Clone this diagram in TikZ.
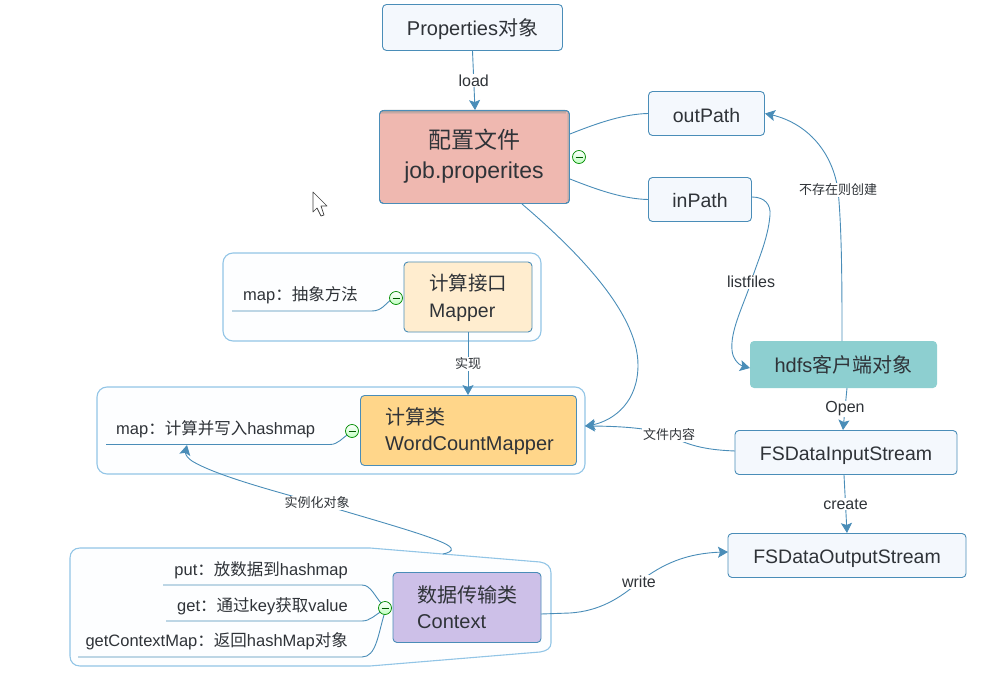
\documentclass[tikz,border=0pt]{standalone}
\usepackage{fontspec}
\setmainfont{Liberation Sans}
\newfontfamily\cjk{Noto Sans CJK SC}
\usetikzlibrary{arrows.meta,bending}
\definecolor{edge}{HTML}{4A8DB8}
\definecolor{frame}{HTML}{92C5E6}
\definecolor{inkc}{HTML}{2F3338}
\definecolor{pale}{HTML}{F4F8FD}
\definecolor{confc}{HTML}{EFB8B0}
\definecolor{mapc}{HTML}{FFEDCF}
\definecolor{wcc}{HTML}{FFD68A}
\definecolor{ctxc}{HTML}{CDC0E8}
\definecolor{hdfsc}{HTML}{8DCFD0}
\tikzset{x=1pt,y=-1pt,
 box/.style={draw=edge,line width=.9pt,rounded corners=4pt,fill=#1,text=inkc,align=center,inner sep=0pt},
 link/.style={draw=edge,line width=.9pt},
 arr/.style={link,-{Stealth[length=10pt,width=11pt,inset=2pt]}},
 lab/.style={fill=white,inner sep=1pt,text=inkc,font=\fontsize{16}{18}\selectfont},
 zlab/.style={fill=white,inner sep=1pt,text=inkc,font=\fontsize{13}{15}\selectfont},
 topic/.style={text=inkc,font=\fontsize{16.5}{19}\selectfont,inner sep=0pt},
 group/.style={draw=frame,line width=1.1pt,fill=white!98!frame,rounded corners=10pt,inner sep=0pt},
 collapse/.style={circle,draw=green!55!black,line width=.7pt,top color=white,bottom color=green!25,minimum size=13pt,inner sep=0pt,path picture={\draw[green!35!black,line width=.8pt] ([xshift=-3.5pt]path picture bounding box.center)--([xshift=3.5pt]path picture bounding box.center);}}
}
\newcommand{\zh}[1]{{\cjk #1}}
\newcommand{\lift}[1]{\rule{0pt}{#1pt}}
\begin{document}
\begin{tikzpicture}
\useasboundingbox (0,0) rectangle (999,679);
% groups
\node[group,minimum width=318pt,minimum height=88pt] (gmap) at (382,297) {};
\node[group,minimum width=488pt,minimum height=87pt] (gwc) at (341,430.5) {};
\path[draw=frame,line width=1.1pt,fill=white!98!frame] (80,548) -- (370,548) -- (540,562) .. controls (547,563) and (551,567) .. (551,573) -- (551,643) .. controls (551,648) and (547,651) .. (540,652) -- (370,666) -- (80,666) .. controls (74,666) and (70,662) .. (70,656) -- (70,558) .. controls (70,552) and (74,548) .. (80,548) -- cycle;
% nodes
\node[box=pale,minimum width=180pt,minimum height=46pt,font=\fontsize{20}{24}\selectfont] (props) at (472.5,27.5) {\lift{21}Properties\zh{对象}};
\node[box=confc,minimum width=190pt,minimum height=93pt] (conf) at (474.5,157) {};
\begin{scope}
\clip[rounded corners=4pt] (380,110) rectangle (569,203);
\fill[top color=black!40,bottom color=confc] (380,110) rectangle (569,114);
\fill[left color=confc,right color=black!35] (566,110) rectangle (569,203);
\end{scope}
\draw[edge,line width=.9pt,rounded corners=4pt] (379.5,110.5) rectangle (569.5,203.5);
\node[text=inkc,align=center,font=\fontsize{23}{30}\selectfont] (conft) at (474,156.5) {\zh{配置文件}\\job.properites};
\node[box=pale,minimum width=116pt,minimum height=44pt,font=\fontsize{19.5}{23}\selectfont] (out) at (706.5,113.5) {\lift{18}outPath};
\node[box=pale,minimum width=103pt,minimum height=44pt,font=\fontsize{19.5}{23}\selectfont] (in) at (700,199.5) {\lift{17}inPath};
\node[box=mapc,minimum width=128pt,minimum height=70pt] (mapper) at (468,297) {};
\node[text=inkc,align=left,anchor=west,inner sep=0pt,font=\fontsize{19.5}{27}\selectfont] (mappert) at (429,298) {\zh{计算接口}\\Mapper};
\node[box=wcc,minimum width=216pt,minimum height=70pt] (wc) at (468.5,430.5) {};
\node[text=inkc,align=left,anchor=west,inner sep=0pt,font=\fontsize{20}{26}\selectfont] (wct) at (385,431) {\zh{计算类}\\WordCountMapper};
\node[box=ctxc,minimum width=148pt,minimum height=70pt] (ctx) at (467,607.5) {};
\node[text=inkc,align=left,anchor=west,inner sep=0pt,font=\fontsize{20}{26}\selectfont] (ctxt) at (417,607.5) {\zh{数据传输类}\\Context};
\node[box=hdfsc,draw=none,minimum width=187pt,minimum height=47pt,font=\fontsize{20}{24}\selectfont] (hdfs) at (843.5,364.5) {hdfs\zh{客户端对象}};
\node[box=pale,minimum width=222pt,minimum height=44pt,font=\fontsize{19.5}{23}\selectfont] (fin) at (846,452.5) {\lift{20}FSDataInputStream};
\node[box=pale,minimum width=238pt,minimum height=44pt,font=\fontsize{19.5}{23}\selectfont] (fout) at (847,555.5) {\lift{20}FSDataOutputStream};
% leaf texts
\node[topic,anchor=west] (mapleaf) at (243,295) {map\zh{：抽象方法}};
\node[topic,anchor=west] (wcleaf) at (116,429) {map\zh{：计算并写入}hashmap};
\node[topic,anchor=east] (put) at (348,570) {put\zh{：放数据到}hashmap};
\node[topic,anchor=east] (get) at (348,606) {get\zh{：通过}key\zh{获取}value};
\node[topic,anchor=east] (gcm) at (348,641) {getContextMap\zh{：返回}hashMap\zh{对象}};
% free ends
\coordinate (ml) at (232,311);
\coordinate (wl) at (106,444.5);
\coordinate (pl) at (163,585);
\coordinate (gl) at (166,621);
\coordinate (cl) at (78,657);
\coordinate (wctip) at (585,426);
\coordinate (leaftip) at (187,445);
% tree connectors
\draw[link] (570,134) .. controls (600,122) and (625,114) .. (out.west);
\draw[link] (570,179) .. controls (600,191) and (625,199) .. (in.west);
\draw[link] (ml) -- (372,311) .. controls (382,311) and (386,303) .. (392,299);
\draw[link] (wl) -- (330,444.5) .. controls (338,444.5) and (342,438) .. (350,433);
\draw[link] (pl) -- (362,585) .. controls (371,585) and (375,597) .. (382,604);
\draw[link] (gl) -- (362,621) .. controls (370,621) and (375,615) .. (382,611);
\draw[link] (cl) -- (362,657) .. controls (376,657) and (378,635) .. (384,615);
% collapse markers
\node[collapse] (c0) at (579,157) {};
\node[collapse] (c1) at (396,298) {};
\node[collapse] (c2) at (352,431) {};
\node[collapse] (c3) at (385,608) {};
% relations
\draw[arr] (props.south) -- node[lab]{load} (conf.north -| 475,0);
\draw[arr] (mapper.south) -- node[zlab]{\zh{实现}} (wc.north -| mapper.south);
\draw[arr] (522,204) .. controls (570,245) and (638,310) .. (638,365) .. controls (638,405) and (610,424) .. (wctip);
\draw[arr] (842,341) .. controls (842,290) and (842,230) .. (838,190) node[zlab]{\zh{不存在则创建}} .. controls (832,150) and (805,120) .. (out.east);
\draw[arr] ([yshift=2.5pt]in.east) .. controls (765,197) and (771,205) .. (770,215) .. controls (768,240) and (757,262) .. (751,282) node[lab]{listfiles} .. controls (745,302) and (730,330) .. (732,350) .. controls (733,362) and (742,368) .. (750,368);
\draw[arr] (847,388) -- node[lab]{Open} (843,430);
\draw[arr] (735,451) .. controls (710,450) and (690,447) .. (669,435) node[zlab]{\zh{文件内容}} .. controls (650,428) and (620,426) .. (wctip);
\draw[arr] (844,475) -- node[lab]{create} (847,533);
\draw[arr] (541,614) -- (570,613) .. controls (600,611) and (620,598) .. (639,582) node[lab]{write} .. controls (665,562) and (690,552) .. (728,552);
\draw[arr] (443,554) .. controls (448,553) and (453,551) .. (451,548) .. controls (447,540) and (380,522) .. (317,503) node[zlab]{\zh{实例化对象}} .. controls (270,490) and (215,475) .. (192,461) .. controls (186,457) and (183,452) .. (leaftip);
% cursor
\draw[black!75,fill=white,line width=.7pt,line join=round] (313,192) -- (327,206) -- (321,206) -- (324,215) -- (321,216) -- (317,208) -- (313,212) -- cycle;
\end{tikzpicture}
\end{document}
